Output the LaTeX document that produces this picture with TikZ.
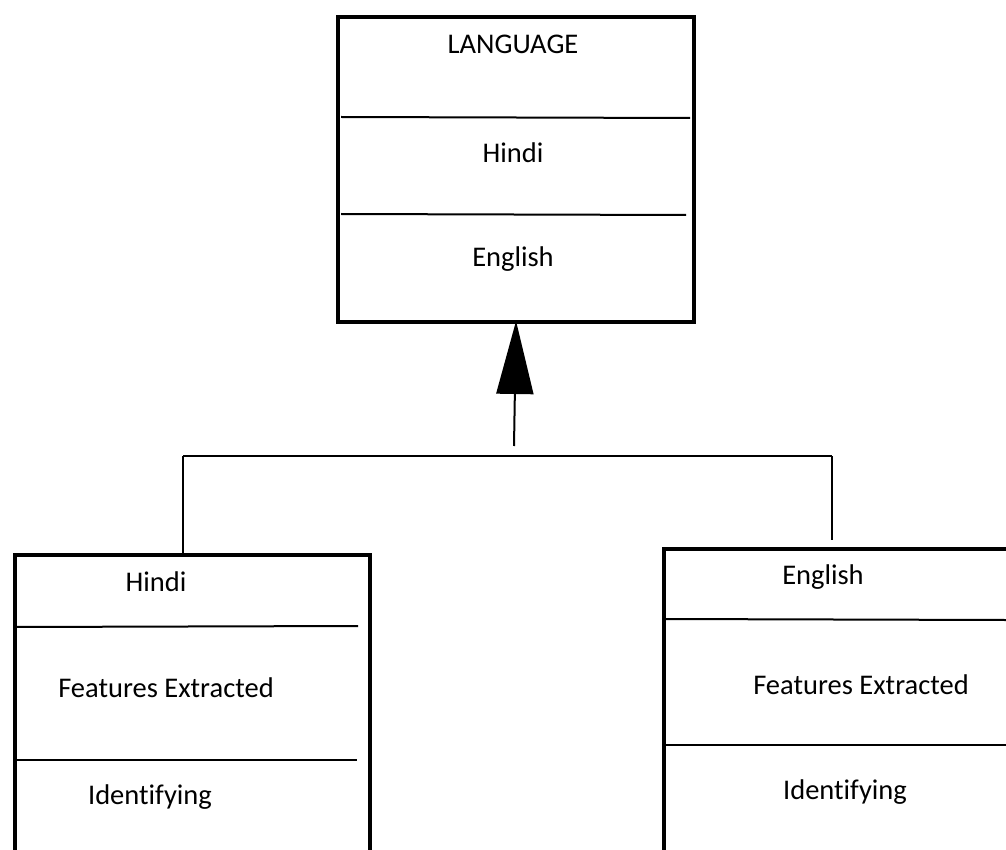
\documentclass[tikz,border=0pt]{standalone}
\usepackage{fontspec}
\setmainfont{Carlito}[Ligatures={NoCommon}]
\usetikzlibrary{arrows.meta}
\tikzset{
  box/.style={draw, line width=4pt, rectangle, inner sep=0pt, anchor=north west},
  divider/.style={line width=2pt},
  label/.style={inner sep=0pt, font=\fontsize{28.5}{34}\selectfont},
  link/.style={line width=2pt},
}
\begin{document}
\begin{tikzpicture}[x=1pt,y=-1pt]
\clip (0,0) rectangle (1006,850);
\fill[white] (0,0) rectangle (1006,850);

% superclass
\node[box, minimum width=356pt, minimum height=305pt] (lang) at (336,15) {};
\draw[divider] (341,117) -- (690,118);
\draw[divider] (341,214) -- (686,215);
\node[label] (langT) at (513,44) {LANGUAGE};
\node[label] (langH) at (513,153) {Hindi};
\node[label] (langE) at (513,259) {English};

% subclass: Hindi
\node[box, minimum width=355pt, minimum height=340pt] (hindi) at (13,553) {};
\draw[divider] (15,627) -- (358,626);
\draw[divider] (15,760) -- (357,760);
\node[label] (hindiT) at (156,582) {Hindi};
\node[label] (hindiF) at (166,688) {Features Extracted};
\node[label] (hindiI) at (150,797) {Identifying};

% subclass: English
\node[box, minimum width=380pt, minimum height=345pt] (english) at (662,547) {};
\draw[divider] (664,619) -- (1006,620);
\draw[divider] (664,745) -- (1006,745);
\node[label] (englishT) at (823,577) {English};
\node[label] (englishF) at (861,685) {Features Extracted};
\node[label] (englishI) at (845,792) {Identifying};

% generalisation connector
\coordinate (stem) at (514,446);
\coordinate (busL) at (183,456);
\coordinate (busR) at (832,456);
\draw[link, shorten >=-3pt, -{Triangle[length=73pt,width=37pt]}] (stem) -- (lang.south);
\draw[link] (busL) -- (busR);
\draw[link] (busL) -- (busL |- hindi.north);
\draw[link] (busR) -- ([yshift=7pt]busR |- english.north);
\end{tikzpicture}
\end{document}
